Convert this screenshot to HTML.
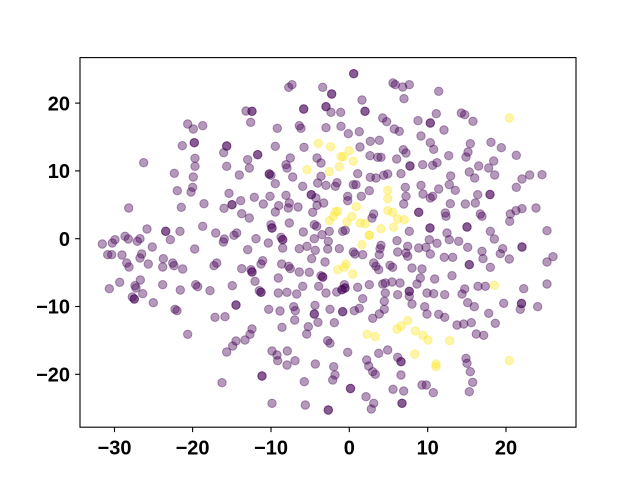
<!DOCTYPE html>
<html><head><meta charset="utf-8"><style>
html,body{margin:0;padding:0;background:#fff;}
svg{display:block;}
.p{fill:#440154;fill-opacity:.4;stroke:#440154;stroke-opacity:.4;stroke-width:1;}
.y{fill:#fde725;fill-opacity:.4;stroke:#fde725;stroke-opacity:.4;stroke-width:1;}
text{font-family:"Liberation Sans",Arial,sans-serif;font-weight:bold;font-size:20px;fill:#000;}
</style></head><body>
<svg width="640" height="480" viewBox="0 0 640 480" xmlns="http://www.w3.org/2000/svg">
<rect x="0" y="0" width="640" height="480" fill="#fff"/>
<g class="p">
<circle cx="246" cy="111" r="4.2"/><circle cx="187.7" cy="124" r="4.2"/><circle cx="193.3" cy="129" r="4.2"/><circle cx="202.7" cy="125.7" r="4.2"/>
<circle cx="194.3" cy="142.7" r="4.2"/><circle cx="194.3" cy="142.7" r="4.2"/><circle cx="182.3" cy="145.7" r="4.2"/>
<circle cx="226.7" cy="146" r="4.2"/><circle cx="226.7" cy="146" r="4.2"/><circle cx="223.7" cy="152.7" r="4.2"/>
<circle cx="143.7" cy="162.7" r="4.2"/><circle cx="195" cy="158.3" r="4.2"/><circle cx="195" cy="166.3" r="4.2"/><circle cx="226.7" cy="166.3" r="4.2"/>
<circle cx="247.7" cy="159.7" r="4.2"/><circle cx="174.3" cy="173.3" r="4.2"/><circle cx="193.3" cy="177" r="4.2"/><circle cx="239.3" cy="175" r="4.2"/><circle cx="249.3" cy="168" r="4.2"/>
<circle cx="353.7" cy="73.7" r="4.2"/><circle cx="353.7" cy="73.7" r="4.2"/><circle cx="288.7" cy="87.3" r="4.2"/><circle cx="292" cy="84.7" r="4.2"/>
<circle cx="322.7" cy="87.3" r="4.2"/><circle cx="331.7" cy="94" r="4.2"/><circle cx="331.7" cy="94" r="4.2"/>
<circle cx="393" cy="83" r="4.2"/><circle cx="395.3" cy="84.7" r="4.2"/><circle cx="402.7" cy="87" r="4.2"/><circle cx="409.3" cy="84.7" r="4.2"/>
<circle cx="404" cy="98.7" r="4.2"/><circle cx="362" cy="100" r="4.2"/><circle cx="252" cy="111.3" r="4.2"/><circle cx="252" cy="111.3" r="4.2"/>
<circle cx="250.7" cy="122.3" r="4.2"/><circle cx="303.7" cy="109" r="4.2"/><circle cx="303.7" cy="109" r="4.2"/>
<circle cx="326" cy="106.7" r="4.2"/><circle cx="326" cy="106.7" r="4.2"/><circle cx="331" cy="112.3" r="4.2"/><circle cx="340.7" cy="112.3" r="4.2"/>
<circle cx="365" cy="111.3" r="4.2"/><circle cx="365" cy="111.3" r="4.2"/><circle cx="382.7" cy="118" r="4.2"/><circle cx="386.7" cy="121.7" r="4.2"/>
<circle cx="277.3" cy="128.3" r="4.2"/><circle cx="299.3" cy="125.7" r="4.2"/><circle cx="301" cy="128.3" r="4.2"/><circle cx="326" cy="127.7" r="4.2"/>
<circle cx="341" cy="126.3" r="4.2"/><circle cx="348.3" cy="133.7" r="4.2"/><circle cx="359.3" cy="131.7" r="4.2"/><circle cx="394.3" cy="129" r="4.2"/><circle cx="399.3" cy="131.3" r="4.2"/>
<circle cx="275.3" cy="146.3" r="4.2"/><circle cx="304" cy="147.3" r="4.2"/><circle cx="360" cy="147" r="4.2"/><circle cx="370.3" cy="141.3" r="4.2"/><circle cx="379.3" cy="140.3" r="4.2"/>
<circle cx="370" cy="155.7" r="4.2"/><circle cx="377.7" cy="157.3" r="4.2"/><circle cx="381" cy="157.3" r="4.2"/><circle cx="257.7" cy="154.7" r="4.2"/><circle cx="257.7" cy="154.7" r="4.2"/>
<circle cx="290.3" cy="158" r="4.2"/><circle cx="286" cy="164.7" r="4.2"/><circle cx="287" cy="168" r="4.2"/><circle cx="317" cy="158" r="4.2"/><circle cx="321" cy="163" r="4.2"/>
<circle cx="269.3" cy="174" r="4.2"/><circle cx="269.3" cy="174" r="4.2"/><circle cx="271" cy="175.3" r="4.2"/><circle cx="292.7" cy="177" r="4.2"/><circle cx="321" cy="176.3" r="4.2"/>
<circle cx="357.7" cy="173.7" r="4.2"/><circle cx="396.7" cy="159" r="4.2"/><circle cx="406" cy="153" r="4.2"/><circle cx="403.3" cy="149.7" r="4.2"/>
<circle cx="410" cy="166" r="4.2"/><circle cx="410" cy="166" r="4.2"/><circle cx="401" cy="173.7" r="4.2"/><circle cx="370.3" cy="177.3" r="4.2"/><circle cx="376" cy="178" r="4.2"/><circle cx="383.7" cy="175.3" r="4.2"/><circle cx="387.7" cy="174" r="4.2"/>
<circle cx="438.7" cy="91.3" r="4.2"/><circle cx="436.3" cy="113.7" r="4.2"/><circle cx="461.3" cy="113" r="4.2"/><circle cx="464.7" cy="114.7" r="4.2"/><circle cx="473" cy="121.3" r="4.2"/>
<circle cx="418" cy="120.7" r="4.2"/><circle cx="430.3" cy="123" r="4.2"/><circle cx="430.3" cy="123" r="4.2"/><circle cx="444" cy="130" r="4.2"/>
<circle cx="421" cy="136" r="4.2"/><circle cx="430.3" cy="142.7" r="4.2"/><circle cx="433.7" cy="149.3" r="4.2"/><circle cx="470.3" cy="143.7" r="4.2"/><circle cx="468" cy="152" r="4.2"/><circle cx="466" cy="157" r="4.2"/>
<circle cx="491" cy="142.3" r="4.2"/><circle cx="501.3" cy="147.7" r="4.2"/><circle cx="516.3" cy="155.3" r="4.2"/><circle cx="448.7" cy="155.7" r="4.2"/>
<circle cx="422.7" cy="164.7" r="4.2"/><circle cx="432.7" cy="165.3" r="4.2"/><circle cx="437" cy="162.7" r="4.2"/><circle cx="478.7" cy="166" r="4.2"/><circle cx="488.7" cy="168" r="4.2"/><circle cx="493.7" cy="161" r="4.2"/>
<circle cx="469.3" cy="172" r="4.2"/><circle cx="450.7" cy="176" r="4.2"/><circle cx="474.7" cy="178" r="4.2"/><circle cx="494.7" cy="175" r="4.2"/><circle cx="522" cy="179" r="4.2"/><circle cx="529.7" cy="175" r="4.2"/><circle cx="542" cy="174.7" r="4.2"/>
<circle cx="177.3" cy="190.7" r="4.2"/><circle cx="191" cy="192" r="4.2"/><circle cx="192.7" cy="187.3" r="4.2"/><circle cx="229" cy="193.3" r="4.2"/><circle cx="240.7" cy="200.7" r="4.2"/>
<circle cx="232" cy="204.7" r="4.2"/><circle cx="232" cy="204.7" r="4.2"/><circle cx="224" cy="208.3" r="4.2"/><circle cx="241.7" cy="213.7" r="4.2"/><circle cx="128.7" cy="208" r="4.2"/>
<circle cx="181.3" cy="207.3" r="4.2"/><circle cx="204" cy="203.7" r="4.2"/><circle cx="147" cy="229" r="4.2"/><circle cx="165.7" cy="231.3" r="4.2"/><circle cx="165.7" cy="231.3" r="4.2"/>
<circle cx="180" cy="231.3" r="4.2"/><circle cx="202.7" cy="226.3" r="4.2"/><circle cx="215.7" cy="233" r="4.2"/><circle cx="236.7" cy="233" r="4.2"/><circle cx="234" cy="235.3" r="4.2"/>
<circle cx="224.3" cy="239" r="4.2"/><circle cx="223.3" cy="242" r="4.2"/><circle cx="125" cy="236.3" r="4.2"/><circle cx="128.3" cy="239" r="4.2"/><circle cx="115" cy="239.7" r="4.2"/>
<circle cx="112.3" cy="243" r="4.2"/><circle cx="102.3" cy="244" r="4.2"/><circle cx="140" cy="238.7" r="4.2"/><circle cx="137.3" cy="241.3" r="4.2"/><circle cx="170.3" cy="239.7" r="4.2"/>
<circle cx="152.3" cy="247" r="4.2"/><circle cx="194.7" cy="249" r="4.2"/><circle cx="247.7" cy="249.7" r="4.2"/><circle cx="107.7" cy="254.7" r="4.2"/><circle cx="111.7" cy="254.7" r="4.2"/>
<circle cx="122" cy="255" r="4.2"/><circle cx="141.7" cy="254" r="4.2"/><circle cx="140" cy="258" r="4.2"/><circle cx="163.3" cy="258.7" r="4.2"/><circle cx="162.7" cy="267" r="4.2"/>
<circle cx="172.7" cy="263" r="4.2"/><circle cx="174" cy="265.7" r="4.2"/><circle cx="182.7" cy="269" r="4.2"/><circle cx="126.7" cy="263" r="4.2"/><circle cx="129" cy="267" r="4.2"/>
<circle cx="148.3" cy="264" r="4.2"/><circle cx="216.7" cy="263" r="4.2"/><circle cx="214" cy="265.7" r="4.2"/><circle cx="241.7" cy="268.7" r="4.2"/><circle cx="109.3" cy="288.7" r="4.2"/>
<circle cx="119.7" cy="282.3" r="4.2"/><circle cx="140.3" cy="280" r="4.2"/><circle cx="135" cy="285.7" r="4.2"/><circle cx="136" cy="288" r="4.2"/><circle cx="132.3" cy="297" r="4.2"/>
<circle cx="134.3" cy="299" r="4.2"/><circle cx="134.3" cy="299" r="4.2"/><circle cx="142.7" cy="293.7" r="4.2"/><circle cx="162.7" cy="284.7" r="4.2"/><circle cx="180.3" cy="290" r="4.2"/>
<circle cx="195.7" cy="284.7" r="4.2"/><circle cx="197.7" cy="286.7" r="4.2"/><circle cx="210" cy="290.7" r="4.2"/><circle cx="232.3" cy="285.7" r="4.2"/><circle cx="153.3" cy="302.7" r="4.2"/>
<circle cx="236" cy="305" r="4.2"/><circle cx="236" cy="305" r="4.2"/>
<circle cx="275.3" cy="183.7" r="4.2"/><circle cx="302.7" cy="186.3" r="4.2"/><circle cx="317.7" cy="183" r="4.2"/><circle cx="326" cy="185.3" r="4.2"/><circle cx="335.3" cy="186.3" r="4.2"/>
<circle cx="337" cy="182.7" r="4.2"/><circle cx="353.3" cy="184.7" r="4.2"/><circle cx="356" cy="184.7" r="4.2"/><circle cx="254.3" cy="197.3" r="4.2"/><circle cx="270" cy="196.3" r="4.2"/>
<circle cx="263.3" cy="204" r="4.2"/><circle cx="278.7" cy="205.7" r="4.2"/><circle cx="275.3" cy="212" r="4.2"/><circle cx="286" cy="195.3" r="4.2"/><circle cx="289.3" cy="203" r="4.2"/>
<circle cx="288.3" cy="208" r="4.2"/><circle cx="298" cy="207" r="4.2"/><circle cx="311.3" cy="194.7" r="4.2"/><circle cx="311.3" cy="194.7" r="4.2"/><circle cx="316" cy="198" r="4.2"/>
<circle cx="323.7" cy="203" r="4.2"/><circle cx="317" cy="205.3" r="4.2"/><circle cx="312.7" cy="212.3" r="4.2"/><circle cx="347.7" cy="196.3" r="4.2"/><circle cx="347.7" cy="200.7" r="4.2"/>
<circle cx="361.3" cy="196.3" r="4.2"/><circle cx="369.3" cy="190.7" r="4.2"/><circle cx="405.3" cy="187.3" r="4.2"/><circle cx="406" cy="196.3" r="4.2"/><circle cx="403.7" cy="204" r="4.2"/>
<circle cx="373.7" cy="214" r="4.2"/><circle cx="372" cy="218" r="4.2"/><circle cx="409.3" cy="231.3" r="4.2"/><circle cx="249.3" cy="218" r="4.2"/><circle cx="271" cy="224.7" r="4.2"/>
<circle cx="272" cy="228" r="4.2"/><circle cx="272" cy="228" r="4.2"/><circle cx="289.3" cy="223" r="4.2"/><circle cx="303.3" cy="232" r="4.2"/><circle cx="314.3" cy="224.7" r="4.2"/>
<circle cx="316.7" cy="226.3" r="4.2"/><circle cx="329.3" cy="231.3" r="4.2"/><circle cx="342.7" cy="231.3" r="4.2"/><circle cx="345.3" cy="230.3" r="4.2"/><circle cx="322" cy="234.7" r="4.2"/>
<circle cx="314.3" cy="238.7" r="4.2"/><circle cx="328.3" cy="241.3" r="4.2"/><circle cx="327.7" cy="249" r="4.2"/><circle cx="256" cy="238.7" r="4.2"/><circle cx="268.3" cy="243" r="4.2"/>
<circle cx="281" cy="237.3" r="4.2"/><circle cx="282.7" cy="239.7" r="4.2"/><circle cx="282.7" cy="239.7" r="4.2"/><circle cx="282.7" cy="248" r="4.2"/><circle cx="299.3" cy="248.7" r="4.2"/>
<circle cx="307" cy="246.3" r="4.2"/><circle cx="315.3" cy="250.3" r="4.2"/><circle cx="339.3" cy="248.7" r="4.2"/><circle cx="353.3" cy="252" r="4.2"/><circle cx="355" cy="254" r="4.2"/>
<circle cx="362.7" cy="254.7" r="4.2"/><circle cx="380" cy="248.7" r="4.2"/><circle cx="381" cy="245.3" r="4.2"/><circle cx="379.3" cy="254.7" r="4.2"/><circle cx="397" cy="240.7" r="4.2"/>
<circle cx="397.7" cy="252" r="4.2"/><circle cx="406" cy="253" r="4.2"/><circle cx="407.7" cy="256.3" r="4.2"/><circle cx="407.7" cy="246.3" r="4.2"/><circle cx="311.7" cy="258.7" r="4.2"/>
<circle cx="325" cy="262" r="4.2"/><circle cx="262.7" cy="260.7" r="4.2"/><circle cx="261" cy="264" r="4.2"/><circle cx="281.7" cy="264" r="4.2"/><circle cx="288.7" cy="266.3" r="4.2"/>
<circle cx="290.3" cy="268.7" r="4.2"/><circle cx="251" cy="269.7" r="4.2"/><circle cx="252" cy="272" r="4.2"/><circle cx="252" cy="272" r="4.2"/><circle cx="373.7" cy="263" r="4.2"/>
<circle cx="376" cy="266.3" r="4.2"/><circle cx="378.7" cy="269.7" r="4.2"/><circle cx="390" cy="265.3" r="4.2"/><circle cx="392.7" cy="267.3" r="4.2"/><circle cx="309.3" cy="272.3" r="4.2"/>
<circle cx="321" cy="275.7" r="4.2"/><circle cx="322.7" cy="277" r="4.2"/><circle cx="322.7" cy="277" r="4.2"/><circle cx="299.3" cy="272" r="4.2"/><circle cx="278.3" cy="278" r="4.2"/>
<circle cx="255" cy="281.3" r="4.2"/><circle cx="302.7" cy="286.3" r="4.2"/><circle cx="318.7" cy="286.3" r="4.2"/><circle cx="344.3" cy="284.7" r="4.2"/><circle cx="345" cy="288" r="4.2"/>
<circle cx="345" cy="288" r="4.2"/><circle cx="357.7" cy="287.3" r="4.2"/><circle cx="369.3" cy="284.7" r="4.2"/><circle cx="382.7" cy="284" r="4.2"/><circle cx="385.3" cy="283" r="4.2"/>
<circle cx="392" cy="282" r="4.2"/><circle cx="400" cy="283" r="4.2"/><circle cx="259.3" cy="290.7" r="4.2"/><circle cx="261" cy="292.3" r="4.2"/><circle cx="261" cy="292.3" r="4.2"/>
<circle cx="278.3" cy="293" r="4.2"/><circle cx="287" cy="292.3" r="4.2"/><circle cx="296.7" cy="294" r="4.2"/><circle cx="326" cy="293" r="4.2"/><circle cx="336.7" cy="292" r="4.2"/>
<circle cx="342" cy="289.7" r="4.2"/><circle cx="342" cy="289.7" r="4.2"/><circle cx="362.7" cy="298.7" r="4.2"/><circle cx="385.3" cy="293" r="4.2"/><circle cx="397.7" cy="294.7" r="4.2"/>
<circle cx="384.3" cy="301.3" r="4.2"/><circle cx="409.3" cy="291.3" r="4.2"/><circle cx="409.3" cy="291.3" r="4.2"/><circle cx="409.3" cy="296.3" r="4.2"/>
<circle cx="421" cy="185.3" r="4.2"/><circle cx="449.3" cy="184.7" r="4.2"/><circle cx="455.3" cy="190.3" r="4.2"/><circle cx="516.3" cy="187.3" r="4.2"/><circle cx="438.7" cy="189" r="4.2"/>
<circle cx="423" cy="194" r="4.2"/><circle cx="430.3" cy="198" r="4.2"/><circle cx="432.7" cy="196.3" r="4.2"/><circle cx="477.7" cy="194.7" r="4.2"/><circle cx="490" cy="194.5" r="4.2"/>
<circle cx="490" cy="194.5" r="4.2"/><circle cx="450.3" cy="203.7" r="4.2"/><circle cx="465.3" cy="204" r="4.2"/><circle cx="475.3" cy="203" r="4.2"/><circle cx="418.7" cy="212.3" r="4.2"/>
<circle cx="418.7" cy="212.3" r="4.2"/><circle cx="445.3" cy="213" r="4.2"/><circle cx="446" cy="216.3" r="4.2"/><circle cx="480.3" cy="214" r="4.2"/><circle cx="482" cy="216.3" r="4.2"/>
<circle cx="510.3" cy="214" r="4.2"/><circle cx="509.7" cy="221.3" r="4.2"/><circle cx="516" cy="210.7" r="4.2"/><circle cx="522" cy="208.7" r="4.2"/><circle cx="536" cy="208" r="4.2"/>
<circle cx="430" cy="228" r="4.2"/><circle cx="430" cy="228" r="4.2"/><circle cx="467" cy="227" r="4.2"/><circle cx="467" cy="227" r="4.2"/><circle cx="447" cy="233" r="4.2"/>
<circle cx="449.3" cy="239.7" r="4.2"/><circle cx="490.3" cy="231.3" r="4.2"/><circle cx="494.3" cy="239" r="4.2"/><circle cx="547" cy="230.7" r="4.2"/><circle cx="429.3" cy="239.7" r="4.2"/>
<circle cx="437" cy="243.3" r="4.2"/><circle cx="458.7" cy="241.3" r="4.2"/><circle cx="418.7" cy="248" r="4.2"/><circle cx="426" cy="247.3" r="4.2"/><circle cx="430.3" cy="254" r="4.2"/>
<circle cx="467.7" cy="247.3" r="4.2"/><circle cx="482" cy="251.3" r="4.2"/><circle cx="483" cy="258.7" r="4.2"/><circle cx="502.7" cy="248.7" r="4.2"/><circle cx="500.3" cy="253.7" r="4.2"/>
<circle cx="509.3" cy="259" r="4.2"/><circle cx="522" cy="247" r="4.2"/><circle cx="522" cy="247" r="4.2"/><circle cx="553" cy="256.7" r="4.2"/><circle cx="547" cy="262" r="4.2"/>
<circle cx="444.3" cy="257.3" r="4.2"/><circle cx="452.7" cy="257.3" r="4.2"/><circle cx="412" cy="268" r="4.2"/><circle cx="422" cy="269" r="4.2"/><circle cx="469.3" cy="264.7" r="4.2"/>
<circle cx="469.3" cy="264.7" r="4.2"/><circle cx="490.3" cy="267.3" r="4.2"/><circle cx="420.3" cy="278" r="4.2"/><circle cx="417" cy="284" r="4.2"/><circle cx="434.7" cy="279" r="4.2"/>
<circle cx="452" cy="275.7" r="4.2"/><circle cx="478" cy="286.3" r="4.2"/><circle cx="485.3" cy="286.3" r="4.2"/><circle cx="464.7" cy="289" r="4.2"/><circle cx="462" cy="294" r="4.2"/>
<circle cx="523.7" cy="288.7" r="4.2"/><circle cx="547" cy="284" r="4.2"/><circle cx="427" cy="293" r="4.2"/><circle cx="433.7" cy="293.7" r="4.2"/><circle cx="444.7" cy="294.7" r="4.2"/>
<circle cx="175" cy="309.3" r="4.2"/><circle cx="177" cy="310.7" r="4.2"/><circle cx="215" cy="317.3" r="4.2"/><circle cx="225" cy="316.7" r="4.2"/><circle cx="187.7" cy="334.3" r="4.2"/>
<circle cx="236" cy="341" r="4.2"/><circle cx="232.7" cy="346" r="4.2"/><circle cx="226.7" cy="352" r="4.2"/><circle cx="245" cy="340" r="4.2"/><circle cx="222" cy="382.7" r="4.2"/>
<circle cx="268.7" cy="309.3" r="4.2"/><circle cx="280" cy="311" r="4.2"/><circle cx="293.7" cy="306.7" r="4.2"/><circle cx="295.3" cy="310.7" r="4.2"/><circle cx="315" cy="305.3" r="4.2"/>
<circle cx="314.3" cy="314" r="4.2"/><circle cx="314.3" cy="314" r="4.2"/><circle cx="330" cy="309.3" r="4.2"/><circle cx="342.7" cy="311.7" r="4.2"/><circle cx="342.7" cy="311.7" r="4.2"/>
<circle cx="354.3" cy="310.7" r="4.2"/><circle cx="359.3" cy="308.3" r="4.2"/><circle cx="384.3" cy="309.3" r="4.2"/><circle cx="379.3" cy="314" r="4.2"/><circle cx="372.7" cy="318.3" r="4.2"/>
<circle cx="294.7" cy="320" r="4.2"/><circle cx="318" cy="322.3" r="4.2"/><circle cx="334.3" cy="322.7" r="4.2"/><circle cx="308.3" cy="326.7" r="4.2"/><circle cx="306.7" cy="334" r="4.2"/>
<circle cx="282" cy="327.3" r="4.2"/><circle cx="252" cy="329" r="4.2"/><circle cx="250" cy="334.3" r="4.2"/><circle cx="327.7" cy="340.7" r="4.2"/><circle cx="330" cy="343.3" r="4.2"/>
<circle cx="272" cy="351" r="4.2"/><circle cx="277" cy="355" r="4.2"/><circle cx="277.7" cy="360.7" r="4.2"/><circle cx="287.3" cy="351" r="4.2"/><circle cx="287" cy="365" r="4.2"/>
<circle cx="295" cy="360.7" r="4.2"/><circle cx="315.3" cy="364" r="4.2"/><circle cx="347.7" cy="352.3" r="4.2"/><circle cx="378.7" cy="353.3" r="4.2"/><circle cx="387.7" cy="350" r="4.2"/>
<circle cx="366.7" cy="360" r="4.2"/><circle cx="368.7" cy="366" r="4.2"/><circle cx="397.7" cy="357.3" r="4.2"/><circle cx="401" cy="361.7" r="4.2"/><circle cx="401" cy="361.7" r="4.2"/>
<circle cx="262" cy="376" r="4.2"/><circle cx="262" cy="376" r="4.2"/><circle cx="333.7" cy="366.7" r="4.2"/><circle cx="335" cy="375" r="4.2"/><circle cx="332.7" cy="380" r="4.2"/>
<circle cx="372.7" cy="371.7" r="4.2"/><circle cx="375.3" cy="374.3" r="4.2"/><circle cx="401" cy="375" r="4.2"/><circle cx="304.3" cy="381.7" r="4.2"/><circle cx="350.5" cy="388.5" r="4.2"/>
<circle cx="350.5" cy="388.5" r="4.2"/><circle cx="393" cy="389.3" r="4.2"/><circle cx="403.7" cy="391" r="4.2"/><circle cx="366" cy="396.7" r="4.2"/><circle cx="373.7" cy="403.3" r="4.2"/>
<circle cx="371.3" cy="409" r="4.2"/><circle cx="402" cy="403.3" r="4.2"/><circle cx="402" cy="403.3" r="4.2"/><circle cx="272" cy="403.3" r="4.2"/><circle cx="305.3" cy="405" r="4.2"/>
<circle cx="328.3" cy="410" r="4.2"/><circle cx="328.3" cy="410" r="4.2"/>
<circle cx="412" cy="304" r="4.2"/><circle cx="424.7" cy="306.7" r="4.2"/><circle cx="427" cy="314" r="4.2"/><circle cx="438.7" cy="314.3" r="4.2"/><circle cx="444.7" cy="317.3" r="4.2"/>
<circle cx="467.7" cy="302.7" r="4.2"/><circle cx="474.3" cy="306.7" r="4.2"/><circle cx="503.7" cy="303.3" r="4.2"/><circle cx="521.5" cy="303.5" r="4.2"/><circle cx="521.5" cy="303.5" r="4.2"/>
<circle cx="520.3" cy="309.3" r="4.2"/><circle cx="537.7" cy="306.7" r="4.2"/><circle cx="488.7" cy="313.3" r="4.2"/><circle cx="495.3" cy="323.3" r="4.2"/><circle cx="457" cy="325" r="4.2"/>
<circle cx="463.7" cy="324" r="4.2"/><circle cx="471.3" cy="322.7" r="4.2"/><circle cx="476.3" cy="334" r="4.2"/><circle cx="483.7" cy="335.3" r="4.2"/><circle cx="466" cy="358.3" r="4.2"/>
<circle cx="467" cy="363.3" r="4.2"/><circle cx="470.3" cy="371.7" r="4.2"/><circle cx="472.7" cy="382.3" r="4.2"/><circle cx="469.3" cy="391.7" r="4.2"/><circle cx="422" cy="385" r="4.2"/>
<circle cx="426.3" cy="385" r="4.2"/><circle cx="433.3" cy="392.7" r="4.2"/>
</g>
<g class="y">
<circle cx="318.3" cy="143.3" r="4.2"/><circle cx="330.7" cy="146.7" r="4.2"/><circle cx="349" cy="150.7" r="4.2"/><circle cx="341" cy="156.7" r="4.2"/><circle cx="343.3" cy="156.7" r="4.2"/>
<circle cx="353.3" cy="161.3" r="4.2"/><circle cx="339.3" cy="166.7" r="4.2"/><circle cx="329.3" cy="171.7" r="4.2"/><circle cx="307" cy="169.7" r="4.2"/><circle cx="509.3" cy="118" r="4.2"/>
<circle cx="387.7" cy="190.3" r="4.2"/><circle cx="387.7" cy="198.7" r="4.2"/><circle cx="335.3" cy="212" r="4.2"/><circle cx="337.7" cy="211.3" r="4.2"/><circle cx="329.3" cy="220.7" r="4.2"/>
<circle cx="333.3" cy="216.3" r="4.2"/><circle cx="356.3" cy="206.7" r="4.2"/><circle cx="352" cy="216.3" r="4.2"/><circle cx="347" cy="222" r="4.2"/><circle cx="360.3" cy="223" r="4.2"/>
<circle cx="365" cy="223.7" r="4.2"/><circle cx="387.7" cy="210.7" r="4.2"/><circle cx="392.7" cy="212.3" r="4.2"/><circle cx="397.7" cy="219" r="4.2"/><circle cx="404.3" cy="219.7" r="4.2"/>
<circle cx="393.7" cy="227.3" r="4.2"/><circle cx="381" cy="228.7" r="4.2"/><circle cx="369.3" cy="235.3" r="4.2"/><circle cx="369.3" cy="235.3" r="4.2"/><circle cx="362" cy="244.7" r="4.2"/>
<circle cx="337.7" cy="269.7" r="4.2"/><circle cx="344.3" cy="267.3" r="4.2"/><circle cx="346" cy="264" r="4.2"/><circle cx="352.7" cy="274" r="4.2"/><circle cx="494.3" cy="285.3" r="4.2"/>
<circle cx="367" cy="334.3" r="4.2"/><circle cx="375.3" cy="336.7" r="4.2"/><circle cx="397" cy="329" r="4.2"/><circle cx="401" cy="326" r="4.2"/><circle cx="407.7" cy="320.7" r="4.2"/>
<circle cx="415.3" cy="331" r="4.2"/><circle cx="423" cy="335.3" r="4.2"/><circle cx="428" cy="340" r="4.2"/><circle cx="449.7" cy="340.7" r="4.2"/><circle cx="414.7" cy="354" r="4.2"/>
<circle cx="436" cy="364" r="4.2"/><circle cx="436" cy="366.7" r="4.2"/><circle cx="509.3" cy="360.7" r="4.2"/>
</g>
<rect x="80" y="57.6" width="496" height="369.6" fill="none" stroke="#000" stroke-width="1.1"/>
<g stroke="#000" stroke-width="1.1">
<line x1="114.5" y1="427.2" x2="114.5" y2="432.1"/>
<line x1="192.6" y1="427.2" x2="192.6" y2="432.1"/>
<line x1="271" y1="427.2" x2="271" y2="432.1"/>
<line x1="349.3" y1="427.2" x2="349.3" y2="432.1"/>
<line x1="427.7" y1="427.2" x2="427.7" y2="432.1"/>
<line x1="506" y1="427.2" x2="506" y2="432.1"/>
<line x1="75.1" y1="103.1" x2="80" y2="103.1"/>
<line x1="75.1" y1="170.9" x2="80" y2="170.9"/>
<line x1="75.1" y1="238.7" x2="80" y2="238.7"/>
<line x1="75.1" y1="306.5" x2="80" y2="306.5"/>
<line x1="75.1" y1="374.3" x2="80" y2="374.3"/>
</g>
<g text-anchor="middle">
<text x="114.5" y="454.5">−30</text>
<text x="192.6" y="454.5">−20</text>
<text x="271" y="454.5">−10</text>
<text x="349.3" y="454.5">0</text>
<text x="427.7" y="454.5">10</text>
<text x="506" y="454.5">20</text>
</g>
<g text-anchor="end">
<text x="70" y="110.3">20</text>
<text x="70" y="178.1">10</text>
<text x="70" y="245.9">0</text>
<text x="70" y="313.7">−10</text>
<text x="70" y="381.5">−20</text>
</g>
</svg>
</body></html>
